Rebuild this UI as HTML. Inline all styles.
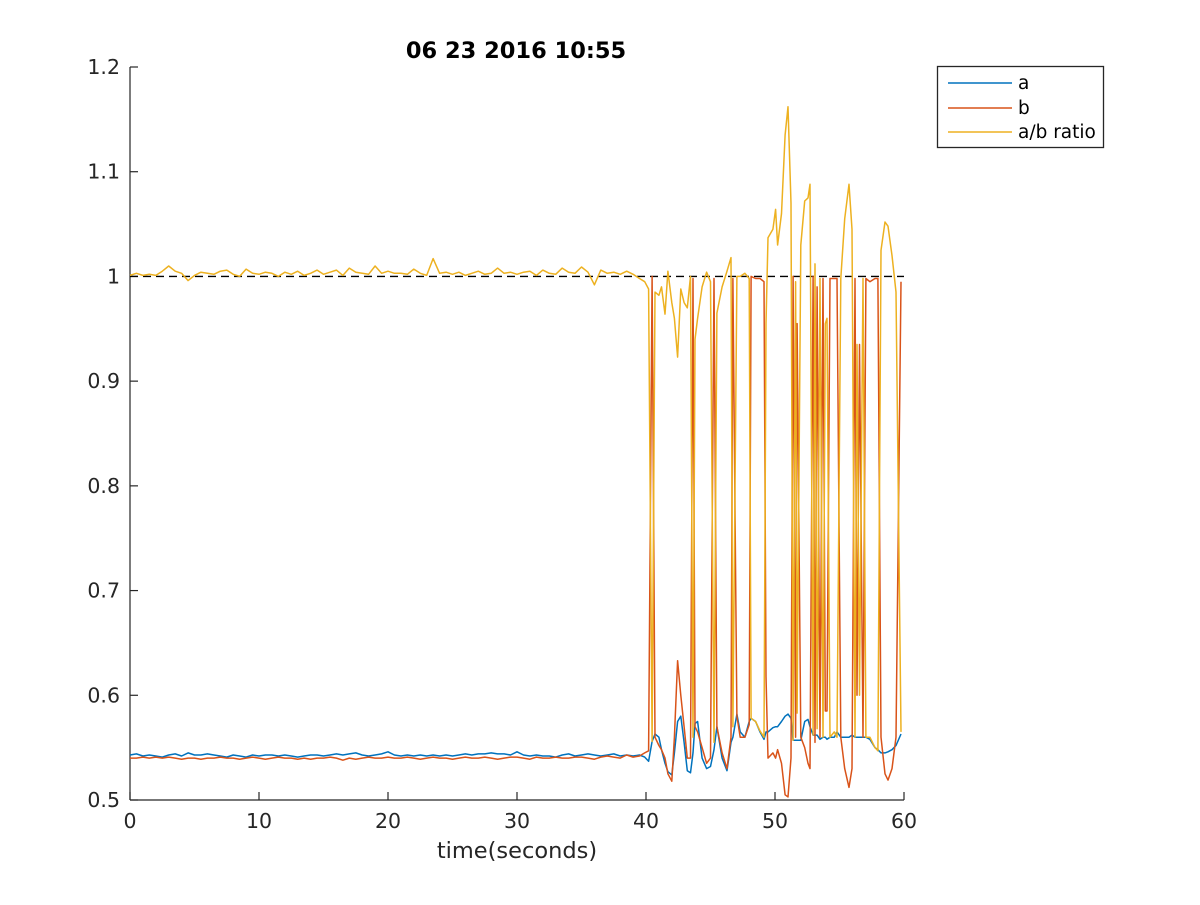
<!DOCTYPE html>
<html><head><meta charset="utf-8"><style>
html,body{margin:0;padding:0;background:#fff;}
svg text{font-family:"DejaVu Sans","Liberation Sans",sans-serif;}
</style></head><body>
<svg id="chart" width="1200" height="900" viewBox="0 0 1200 900" xmlns="http://www.w3.org/2000/svg">
<rect width="1200" height="900" fill="#fff"/>
<text x="516" y="58" text-anchor="middle" font-size="22.5" font-weight="bold" fill="#000">06 23 2016 10:55</text>
<g id="axes"></g>
<g id="series"></g>
<text x="517" y="858" text-anchor="middle" font-size="22.5" fill="#262626">time(seconds)</text>
<g>
<rect x="937.5" y="66.5" width="166" height="81" fill="#fff" stroke="#262626" stroke-width="1.3"/>
<g><line x1="948" y1="83" x2="1012" y2="83" stroke="#0072BD" stroke-width="1.5"/><text x="1018" y="89" font-size="18.5" fill="#000">a</text></g>
<g><line x1="948" y1="108" x2="1012" y2="108" stroke="#D95319" stroke-width="1.5"/><text x="1018" y="114" font-size="18.5" fill="#000">b</text></g>
<g><line x1="948" y1="132" x2="1012" y2="132" stroke="#EDB120" stroke-width="1.5"/><text x="1018" y="138" font-size="18.5" fill="#000">a/b ratio</text></g>
</g>
</svg>
<script>
const xTicks=[0,10,20,30,40,50,60];
const yTicks=[0.5,0.6,0.7,0.8,0.9,1.0,1.1,1.2];
const yTickLabels=["0.5","0.6","0.7","0.8","0.9","1","1.1","1.2"];
const refLine=1.0;
const preStep=0.5;
const preA=[.543,.544,.542,.543,.542,.541,.543,.544,.542,.545,.543,.543,.544,.543,.542,.541,.543,.542,.541,.543,.542,.543,.543,.542,.543,.542,.541,.542,.543,.543,.542,.543,.544,.543,.544,.545,.543,.542,.543,.544,.546,.543,.542,.543,.542,.543,.542,.543,.542,.543,.542,.543,.544,.543,.544,.544,.545,.544,.544,.543,.546,.543,.542,.543,.542,.542,.541,.543,.544,.542,.543,.544,.543,.542,.543,.544,.542,.543,.542,.543];
const preB=[.540,.540,.541,.540,.541,.540,.541,.540,.539,.540,.540,.539,.540,.540,.541,.540,.540,.539,.540,.541,.540,.539,.540,.541,.540,.540,.539,.540,.539,.540,.540,.541,.540,.538,.540,.539,.540,.541,.540,.540,.541,.540,.540,.541,.540,.539,.540,.541,.540,.540,.539,.540,.541,.540,.540,.541,.540,.539,.540,.541,.541,.540,.539,.541,.540,.540,.541,.540,.540,.541,.541,.540,.539,.541,.542,.541,.540,.543,.541,.542];
const preR=[1.001,1.003,1.001,1.002,1.001,1.005,1.010,1.005,1.003,0.996,1.001,1.004,1.003,1.002,1.005,1.006,1.002,1.000,1.007,1.003,1.002,1.004,1.003,1.000,1.004,1.002,1.005,1.001,1.003,1.006,1.002,1.004,1.006,1.001,1.008,1.004,1.003,1.002,1.010,1.003,1.005,1.003,1.003,1.002,1.007,1.003,1.001,1.017,1.003,1.004,1.002,1.004,1.001,1.003,1.005,1.002,1.003,1.008,1.003,1.004,1.002,1.004,1.005,1.001,1.006,1.003,1.002,1.008,1.004,1.003,1.009,1.004,0.992,1.006,1.003,1.004,1.002,1.005,1.002,0.998];
const postT=[39.9,40.2,40.47,40.7,41.0,41.2,41.47,41.7,42.0,42.2,42.45,42.7,42.95,43.2,43.45,43.64,43.8,44.0,44.35,44.7,45.0,45.27,45.5,45.9,46.28,46.59,46.74,47.05,47.3,47.67,48.0,48.15,48.5,48.84,49.15,49.3,49.46,49.84,50.05,50.2,50.5,50.78,51.01,51.24,51.4,51.6,51.71,52.0,52.3,52.56,52.71,52.95,53.1,53.26,53.49,53.72,53.9,54.03,54.26,54.6,54.81,55.1,55.4,55.74,55.97,56.2,56.36,56.55,56.82,57.05,57.36,57.75,57.98,58.22,58.53,58.76,59.07,59.38,59.77];
const postA=[.541,.537,.556,.563,.560,.548,.535,.527,.524,.545,.575,.580,.555,.528,.526,.545,.573,.575,.540,.530,.532,.548,.570,.540,.528,.555,.560,.582,.565,.560,.575,.578,.575,.565,.558,.565,.565,.569,.570,.570,.575,.580,.582,.578,.557,.557,.557,.557,.575,.577,.570,.562,.562,.562,.558,.560,.560,.558,.560,.560,.565,.560,.560,.560,.562,.560,.560,.560,.560,.560,.558,.550,.548,.545,.545,.546,.548,.552,.563];
const postB=[.545,.547,1.000,.560,.552,.548,.540,.525,.518,.560,.633,.600,.570,.540,.540,.998,.570,.565,.550,.535,.540,.998,.570,.545,.530,.560,.998,.580,.560,.560,.572,1.000,.998,.998,.995,.618,.540,.545,.540,.548,.535,.505,.503,.540,1.000,.560,.955,.560,.550,.535,.530,1.000,.555,.990,.560,.998,.585,.585,.998,.998,.998,.560,.530,.512,.530,.998,.600,.935,.560,.998,.995,.998,.998,.560,.525,.519,.530,.560,.995];
const postR=[.995,.988,.556,.985,.982,.990,.964,1.005,.975,.960,.923,.988,.975,.970,1.000,.560,.940,.960,.990,1.004,.995,.555,.965,.990,1.005,1.018,.570,1.000,1.000,1.003,.998,.578,.575,.566,.560,.955,1.037,1.045,1.064,1.030,1.060,1.135,1.162,1.070,.557,.995,.583,1.030,1.072,1.075,1.088,.562,1.012,.568,.998,.560,.955,.960,.560,.565,.560,.998,1.055,1.088,1.045,.560,.935,.600,.998,.560,.560,.550,.547,1.025,1.052,1.048,1.020,.985,.565];

const X0=130,X1=904,Y0=800,Y1=67;
function xs(t){return X0+(t-0)/(60-0)*(X1-X0);}
function ys(v){return Y0-(v-0.5)/(1.2-0.5)*(Y0-Y1);}
const NS="http://www.w3.org/2000/svg";
const axes=document.getElementById('axes');
const series=document.getElementById('series');
function mk(tag,attrs,parent){const e=document.createElementNS(NS,tag);for(const k in attrs)e.setAttribute(k,attrs[k]);parent.appendChild(e);return e;}

let el=mk('line',{x1:X0,y1:Y0,x2:X1,y2:Y0,stroke:'#262626','stroke-width':1.2},axes);


el=mk('line',{x1:X0,y1:Y0,x2:X0,y2:Y1,stroke:'#262626','stroke-width':1.2},axes);


xTicks.forEach(t=>{
  const x=xs(t);
  let tk=mk('line',{x1:x,y1:Y0,x2:x,y2:Y0-8,stroke:'#262626','stroke-width':1.2},axes);
  
  
  let lb=mk('text',{x:x,y:Y0+28,'text-anchor':'middle','font-size':20.5,fill:'#262626'},axes);
  lb.textContent=String(t);
  
  
});
yTicks.forEach((v,i)=>{
  const y=ys(v);
  let tk=mk('line',{x1:X0,y1:y,x2:X0+8,y2:y,stroke:'#262626','stroke-width':1.2},axes);
  
  
  let lb=mk('text',{x:X0-10,y:y+7,'text-anchor':'end','font-size':20.5,fill:'#262626'},axes);
  lb.textContent=yTickLabels[i];
  
  
});
let rl=mk('line',{x1:X0,y1:ys(refLine),x2:X1,y2:ys(refLine),stroke:'#000','stroke-width':1.3,'stroke-dasharray':'8,5'},series);



function build(pre,postV){
  const pts=[];
  pre.forEach((v,i)=>pts.push([i*preStep,v]));
  postT.forEach((t,i)=>pts.push([t,postV[i]]));
  return pts.map(p=>xs(p[0]).toFixed(1)+','+ys(p[1]).toFixed(1)).join(' ');
}
let pa=mk('polyline',{points:build(preA,postA),fill:'none',stroke:'#0072BD','stroke-width':1.5,'stroke-linejoin':'round'},series);


let pb=mk('polyline',{points:build(preB,postB),fill:'none',stroke:'#D95319','stroke-width':1.5,'stroke-linejoin':'round'},series);


let pr=mk('polyline',{points:build(preR,postR),fill:'none',stroke:'#EDB120','stroke-width':1.5,'stroke-linejoin':'round'},series);


</script>
</body></html>
